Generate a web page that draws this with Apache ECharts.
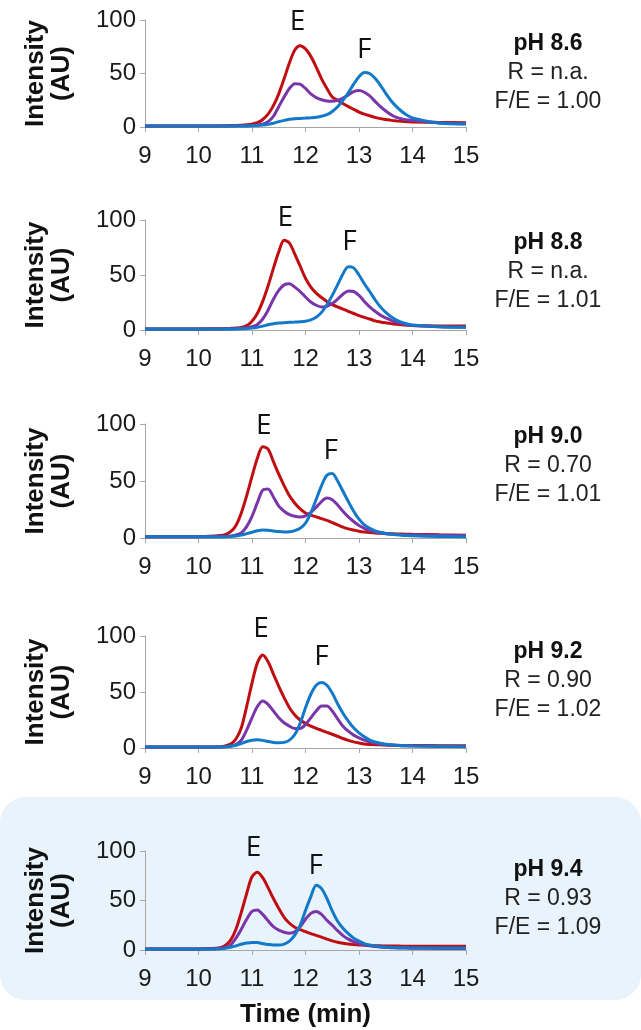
<!DOCTYPE html>
<html lang="en">
<head>
    <meta charset="UTF-8">
    <title>Chromatograms</title>
    <script src="https://cdn.jsdelivr.net/npm/echarts@6/dist/echarts.min.js"></script>
    <style>
        body { margin: 0; background: #fff; }
    </style>
</head>
<body>
    <div id="chart" style="width: 641px; height: 1030px;"></div>
    <script type="text/javascript">
        // retention time grid (min)
        const times = [9, 9.5, 10, 10.2, 10.4, 10.5, 10.6, 10.7, 10.8, 10.9, 11.0, 11.1, 11.2, 11.3, 11.4, 11.5, 11.6, 11.7, 11.8, 11.9, 12.0,
            12.1, 12.2, 12.3, 12.4, 12.5, 12.6, 12.7, 12.8, 12.9, 13.0, 13.1, 13.2, 13.3, 13.4, 13.5, 13.6, 13.7, 13.8, 13.9, 14.0, 14.5, 15];

        const phLabels = ['pH 8.6', 'pH 8.8', 'pH 9.0', 'pH 9.2', 'pH 9.4'];
        const rLabels = ['R = n.a.', 'R = n.a.', 'R = 0.70', 'R = 0.90', 'R = 0.93'];
        const feLabels = ['F/E = 1.00', 'F/E = 1.01', 'F/E = 1.01', 'F/E = 1.02', 'F/E = 1.09'];

        // E (red), mixture (purple), F (blue) traces
        const ePh86 = [1, 1, 1, 1, 1.1, 1.2, 1.3, 1.4, 1.6, 2, 2.7, 4, 7, 12, 20, 31, 45, 60, 72, 76, 73,
            66, 56, 45, 36, 28, 25, 22, 19, 16.5, 14, 12, 10.5, 9, 7.8, 7, 6.2, 5.7, 5.3, 5, 4.7, 4.2, 4];
        const mixPh86 = [1, 1, 1, 1, 1, 1, 1, 1, 1.1, 1.2, 1.4, 1.8, 2.6, 5, 10, 19, 28, 36, 40.5, 40, 36,
            31, 27.5, 25.5, 24.3, 24, 25, 27, 30, 33, 34, 32.5, 29, 24, 19, 15, 11.5, 9, 7.5, 6.6, 6, 4, 3];
        const fPh86 = [1, 1, 1, 1, 1, 1, 1, 1, 1, 1, 1.1, 1.3, 1.8, 2.5, 3.5, 5, 6.2, 7.2, 7.8, 8, 8.3,
            8.7, 9.2, 10, 11.5, 14.5, 19, 25, 32, 40, 47, 51, 50, 45.5, 39, 31.5, 24.5, 19, 14.5, 11, 8.5, 3.5, 2.8];

        const ePh88 = [1, 1, 1, 1.1, 1.2, 1.3, 1.5, 1.8, 2.3, 4, 8, 15, 26, 40, 56, 71, 81.5, 79, 69, 58, 47,
            39, 33.5, 29.5, 26, 23, 21, 19, 17, 15, 13, 11.5, 10, 8.3, 7.3, 6.5, 5.8, 5.2, 4.7, 4.3, 4, 3.7, 3.6];
        const mixPh88 = [1, 1, 1, 1, 1, 1, 1.1, 1.2, 1.5, 2, 3, 5, 10, 18, 28, 36, 41, 42, 39, 35, 30,
            25.5, 22.5, 21, 21.5, 24, 28, 32.5, 35.5, 35, 31.5, 26, 21, 17, 13.5, 11, 8.8, 7, 5.8, 4.8, 4.2, 3, 2.6];
        const fPh88 = [1, 1, 1, 1, 1, 1, 1, 1, 1.1, 1.3, 1.7, 2.4, 3.5, 4.7, 5.6, 6.3, 6.7, 7, 7.2, 7.5, 8,
            9.2, 11.5, 16, 23, 31.5, 41, 51, 57.5, 56.5, 50, 42, 35, 27.5, 21, 16, 12, 9, 7, 5.5, 4.5, 3, 2.5];

        const ePh90 = [1, 1, 1.2, 1.5, 2.2, 3, 5.5, 11, 22, 37, 54, 70, 80, 78, 67, 56, 46, 37, 30.5, 25.5, 22,
            20, 18.5, 17, 15.5, 13.5, 11.5, 9.5, 8, 7, 6, 5.3, 4.8, 4.4, 4.2, 4, 3.8, 3.6, 3.4, 3.3, 3.2, 2.8, 2.5];
        const mixPh90 = [1, 1, 1, 1, 1.2, 1.4, 1.8, 2.7, 4.5, 10, 19, 31, 42, 43, 36, 28, 23.5, 20.5, 19, 18.5, 19.5,
            22.5, 27, 32, 35, 33.5, 29, 23.5, 18.5, 14.5, 11, 8.5, 6.5, 5.3, 4.4, 3.8, 3.4, 3.1, 2.9, 2.7, 2.6, 2.2, 2];
        const fPh90 = [1, 1, 1, 1, 1, 1.1, 1.3, 1.7, 2.5, 3.8, 5, 6.3, 7, 6.8, 6.2, 5.6, 5.3, 5.5, 6.5, 8.5, 13,
            22, 34, 46, 55, 56.5, 50, 41, 32, 23.5, 16.5, 11.5, 8.5, 6.3, 5, 4, 3.3, 2.8, 2.4, 2.1, 1.9, 1.4, 1.2];

        const ePh92 = [1, 1, 1, 1, 1.2, 1.8, 3.5, 8, 18, 37, 58, 76, 83, 77, 66, 55, 45, 36, 29.5, 25, 22,
            19.5, 17.5, 15.8, 14, 12.3, 10.5, 8.5, 6.8, 5.5, 4.5, 3.6, 3.2, 3, 2.8, 2.6, 2.5, 2.4, 2.3, 2.3, 2.2, 2.1, 2];
        const mixPh92 = [1, 1, 1, 1, 1, 1.2, 1.7, 3, 7, 16, 27, 37, 42, 39, 33, 27, 22.5, 19.5, 17.5, 17.5, 21,
            27, 33, 37.5, 37.5, 33, 26, 19.5, 15, 11.5, 9, 7, 5.5, 4.4, 3.6, 3, 2.6, 2.3, 2.1, 2, 1.9, 1.7, 1.6];
        const fPh92 = [1, 1, 1, 1, 1, 1.2, 1.6, 2.5, 4, 5.8, 7, 7.3, 6.8, 5.8, 5, 4.7, 5, 7, 12, 22, 36,
            48, 56, 58.5, 56, 49, 39.5, 31, 24, 18, 13.5, 10, 7, 5.3, 4.2, 3.4, 2.8, 2.4, 2.1, 1.9, 1.7, 1.3, 1.2];

        const ePh94 = [1, 1, 1.1, 1.4, 2.2, 4.5, 10, 21, 38, 57, 74, 78.5, 73, 63, 52, 42, 33, 27, 23, 20.5, 18.5,
            16.5, 14.8, 13, 11, 9.2, 7.8, 6.8, 6, 5.5, 5.1, 4.8, 4.5, 4.3, 4.2, 4.1, 4, 4, 3.9, 3.9, 3.8, 3.7, 3.7];
        const mixPh94 = [1, 1, 1, 1, 1.5, 2.3, 5, 12, 21, 31, 39, 40.5, 36, 29.5, 23.5, 20, 18, 17, 18.5, 23.5, 31,
            37, 39, 36, 30, 25, 19.5, 14.5, 11, 8.5, 6.5, 5.2, 4.3, 3.6, 3, 2.6, 2.3, 2.1, 2, 1.9, 1.8, 1.6, 1.5];
        const fPh94 = [1, 1, 1, 1, 1.3, 1.8, 2.8, 4.2, 5.8, 7, 7.7, 7.5, 6.5, 5.6, 5, 5, 6, 9, 15, 25, 40,
            54, 65.5, 62, 52, 39.5, 29, 22, 16.5, 12, 9, 6.5, 5, 4, 3.4, 3, 2.7, 2.5, 2.3, 2.2, 2.1, 2, 2];

        // peak label anchors [time, intensity]
        const eLabelAt = [[11.85, 98], [11.62, 102], [11.22, 98], [11.17, 106], [11.03, 103]];
        const fLabelAt = [[13.1, 72], [12.82, 80], [12.47, 76], [12.3, 81], [12.19, 85]];

        const traces = [
            [ePh86, mixPh86, fPh86],
            [ePh88, mixPh88, fPh88],
            [ePh90, mixPh90, fPh90],
            [ePh92, mixPh92, fPh92],
            [ePh94, mixPh94, fPh94]
        ];

        const gridTops = [20, 220, 424, 636, 851];
        const gridHeights = [107, 110, 114, 112, 99];
        const textTops = [44, 243, 437, 652, 870];
        const colors = ['#c00d12', '#7a36a8', '#1278c8'];
        const FONT = 'Liberation Sans, Arial, sans-serif';

        const grids = [], xAxes = [], yAxes = [], series = [], graphics = [];

        graphics.push({
            type: 'rect', z: -10,
            shape: { x: 0, y: 797, width: 641, height: 203, r: 26 },
            style: { fill: '#e8f3fc' }
        });

        traces.forEach((set, i) => {
            grids.push({ left: 145, width: 321, top: gridTops[i], height: gridHeights[i] });
            const last = i === traces.length - 1;
            xAxes.push({
                type: 'value', gridIndex: i, min: 9, max: 15, interval: 1,
                axisLine: { lineStyle: { color: '#a6a6a6', width: 1 } },
                axisTick: { show: true, length: 5, lineStyle: { color: '#a6a6a6' } },
                splitLine: { show: false },
                axisLabel: { fontSize: 24, color: '#1a1a1a', fontFamily: FONT, margin: 17 },
                name: last ? 'Time (min)' : '',
                nameLocation: 'middle', nameGap: 52,
                nameTextStyle: { fontSize: 26, fontWeight: 'bold', color: '#111', fontFamily: FONT }
            });
            yAxes.push({
                type: 'value', gridIndex: i, min: 0, max: 100, interval: 50,
                axisLine: { show: true, lineStyle: { color: '#a6a6a6', width: 1 } },
                axisTick: { show: true, length: 5, lineStyle: { color: '#a6a6a6' } },
                splitLine: { show: false },
                axisLabel: { fontSize: 24, color: '#1a1a1a', fontFamily: FONT, margin: 9 },
                name: 'Intensity\n(AU)', nameLocation: 'middle', nameRotate: 90, nameGap: 70,
                nameTextStyle: { fontSize: 26, fontWeight: 'bold', color: '#111', fontFamily: FONT, lineHeight: 26 }
            });

            set.forEach((vals, k) => {
                series.push({
                    type: 'line', xAxisIndex: i, yAxisIndex: i,
                    data: times.map((t, j) => [t, vals[j]]),
                    showSymbol: false, smooth: 0.3, silent: true,
                    lineStyle: { color: colors[k], width: 3 },
                    itemStyle: { color: colors[k] }
                });
            });

            const cx = 548, y0 = textTops[i];
            graphics.push(
                { type: 'text', x: cx, y: y0, style: { text: phLabels[i], font: 'bold 23px ' + FONT, fill: '#111', align: 'center', verticalAlign: 'middle' } },
                { type: 'text', x: cx, y: y0 + 29, style: { text: rLabels[i], font: '23px ' + FONT, fill: '#222', align: 'center', verticalAlign: 'middle' } },
                { type: 'text', x: cx, y: y0 + 58, style: { text: feLabels[i], font: '23px ' + FONT, fill: '#222', align: 'center', verticalAlign: 'middle' } }
            );
        });

        const chart = echarts.init(document.getElementById('chart'), null, { renderer: 'canvas' });
        chart.setOption({
            animation: false,
            backgroundColor: '#fff',
            grid: grids,
            xAxis: xAxes,
            yAxis: yAxes,
            series: series
        });

        // peak letters placed through each panel's own scales
        traces.forEach((set, i) => {
            [['E', eLabelAt[i]], ['F', fLabelAt[i]]].forEach(([letter, at]) => {
                const p = chart.convertToPixel({ gridIndex: i }, at);
                graphics.push({
                    type: 'text', x: p[0], y: p[1],
                    style: { text: letter, font: '28px "Open Sans", "Noto Sans", sans-serif', fill: '#111', align: 'center', verticalAlign: 'middle' }
                });
            });
        });
        chart.setOption({ graphic: graphics });
    </script>
</body>
</html>
